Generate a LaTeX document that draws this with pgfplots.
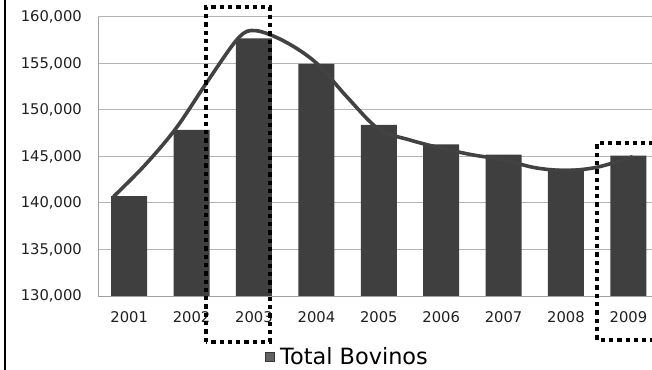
\documentclass[border=0pt]{standalone}
\usepackage{pgfplots}
\pgfplotsset{compat=1.18}
\usepackage{fontspec}
\setmainfont{DejaVu Sans}
\definecolor{barc}{HTML}{3F3F3F}
\definecolor{curvec}{HTML}{424242}
\definecolor{gridc}{HTML}{B4B4B4}
\definecolor{axc}{HTML}{A0A0A0}
\begin{document}
\begin{tikzpicture}
\useasboundingbox (0,0) rectangle (652bp,370bp);
\begin{axis}[
  at={(98bp,74bp)}, anchor=south west,
  scale only axis, width=561.6bp, height=279bp,
  xmin=-0.5, xmax=8.5, ymin=130000, ymax=160000,
  xtick={0,...,8},
  xticklabels={2001,2002,2003,2004,2005,2006,2007,2008,2009},
  ytick={130000,135000,...,160000},
  /pgf/number format/.cd, fixed, precision=0, 1000 sep={,}, assume math mode=true,
  /pgfplots/.cd,
  scaled y ticks=false,
  axis lines*=left,
  axis line style={draw=axc, line width=1bp, -},
  major tick length=0pt,
  ymajorgrids, major grid style={draw=gridc, line width=1bp},
  tick label style={font=\fontsize{14.8}{16}\selectfont, text=black!88},
  yticklabel style={anchor=east, inner sep=0pt, xshift=-16bp},
  xticklabel style={anchor=north, inner sep=0pt, yshift=-15bp},
  legend style={at={(0.2974,-0.219)}, anchor=west, draw=none, fill=none,
    font=\fontsize{22.5}{25}\selectfont, inner sep=0pt,
    /tikz/every even column/.append style={column sep=0pt}},
  legend image code/.code={\fill[black!62, draw=black!78, line width=1bp] (0.5bp,-4.5bp) rectangle (9.5bp,4.5bp);},
  clip=true,
]
\addplot[ybar, bar width=36bp, bar shift=0pt, draw=none, fill=barc]
 coordinates {(0,140750) (1,147850) (2,157700) (3,154950) (4,148400) (5,146300) (6,145200) (7,143700) (8,145100)};
\addlegendentry{\hspace{3bp}Total Bovinos}
\addplot[forget plot, smooth, tension=0.55, draw=curvec, line width=3.6bp, line cap=round]
 coordinates {
 (-0.25,140690) (0.25,144060) (0.75,148030) (1.25,153030) (1.75,157740)
 (2.03,158530) (2.5,157340) (3.0,155050) (3.5,151330) (4.0,147940)
 (4.5,146770) (5.0,145900) (5.5,145180) (6.0,144650) (6.5,143800)
 (7.0,143500) (7.5,143850) (8.06,144960)};
\end{axis}
\draw[line width=2bp] (5bp,0) -- (5bp,370bp);
\begin{scope}[line width=4.3bp, dash pattern=on 4.3bp off 4bp, black]
\draw (206bp,28bp) rectangle (270bp,363bp);
\draw (662bp,227bp) -- (597bp,227bp) -- (597bp,30bp) -- (662bp,30bp);
\end{scope}
\end{tikzpicture}
\end{document}
